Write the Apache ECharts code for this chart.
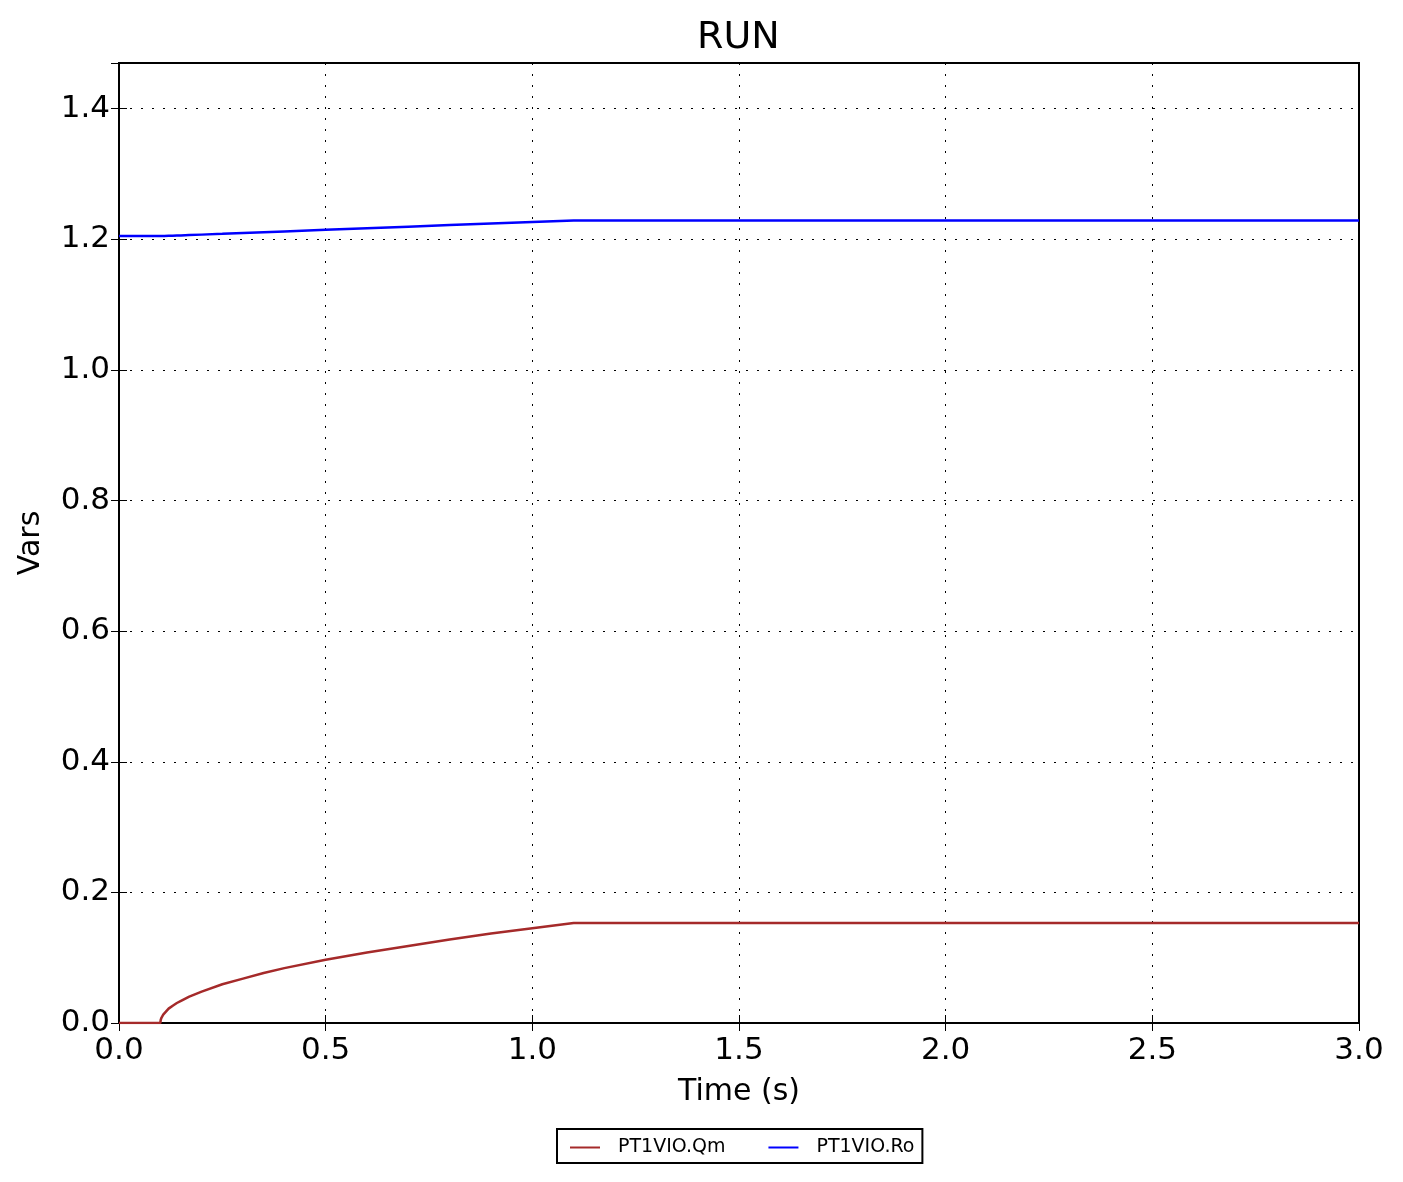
<!DOCTYPE html>
<html>
<head>
<meta charset="utf-8">
<title>RUN</title>
<script src="https://cdn.jsdelivr.net/npm/echarts@6/dist/echarts.min.js"></script>
<style>
  html, body { margin: 0; padding: 0; background: #fff; }
  #chart { width: 1403px; height: 1182px; }
</style>
</head>
<body>
<div id="chart"></div>
<script>
// time points (s)
var timeS = [0, 0.1, 0.101, 0.103, 0.105, 0.107, 0.11, 0.12, 0.13, 0.14, 0.15, 0.17, 0.2, 0.25, 0.3, 0.35, 0.4, 0.5, 0.6, 0.7, 0.8, 0.9, 1.0, 1.1, 1.5, 2.0, 2.5, 3.0];
// PT1VIO.Qm
var qmValues = [0, 0, 0.005, 0.0084, 0.011, 0.0128, 0.015, 0.022, 0.0265, 0.0306, 0.034, 0.0405, 0.048, 0.0593, 0.068, 0.0765, 0.084, 0.097, 0.108, 0.118, 0.128, 0.137, 0.145, 0.153, 0.153, 0.153, 0.153, 0.153];
// PT1VIO.Ro
var roValues = [1.205, 1.205, 1.205, 1.205, 1.205, 1.205, 1.205, 1.2053, 1.2055, 1.2058, 1.206, 1.2065, 1.2072, 1.2084, 1.2097, 1.2109, 1.2121, 1.2145, 1.2169, 1.2194, 1.2218, 1.2242, 1.2266, 1.229, 1.229, 1.229, 1.229, 1.229];
var seriesNames = ["PT1VIO.Qm", "PT1VIO.Ro"];

function pairs(xs, ys) {
  return xs.map(function (x, i) { return [x, ys[i]]; });
}

var font = "DejaVu Sans";
var chart = echarts.init(document.getElementById("chart"));

var xBase = {
  type: "value",
  min: 0,
  max: 3,
  interval: 0.5,
  axisTick: { inside: true, length: 8, lineStyle: { color: "#000", width: 1 } },
  splitLine: { show: false }
};
var yBase = {
  type: "value",
  min: 0,
  max: 1.47,
  interval: 0.2,
  axisTick: { inside: true, length: 8, lineStyle: { color: "#000", width: 1 } },
  splitLine: { show: false }
};

chart.setOption({
  animation: false,
  backgroundColor: "#fff",
  title: {
    text: "RUN",
    left: 697,
    top: 19,
    padding: 0,
    textStyle: { fontFamily: font, fontSize: 38, fontWeight: "normal", color: "#000" }
  },
  grid: {
    left: 119,
    right: 44,
    top: 63,
    bottom: 159,
    show: true,
    borderColor: "#000",
    borderWidth: 2,
    backgroundColor: "#fff"
  },
  legend: {
    data: seriesNames,
    left: 557,
    top: 1129,
    orient: "horizontal",
    icon: "rect",
    itemWidth: 30,
    itemHeight: 2,
    itemGap: 43,
    itemTextGap: 5,
    padding: [9, 8, 6, 13],
    borderColor: "#000",
    borderWidth: 2,
    borderRadius: 0,
    backgroundColor: "#fff",
    textStyle: { fontFamily: font, fontSize: 19, color: "#000", padding: [0, 0, 0, 13] }
  },
  xAxis: [
    Object.assign({}, xBase, {
      position: "bottom",
      name: "Time (s)",
      nameLocation: "middle",
      nameGap: 54,
      nameTextStyle: { fontFamily: font, fontSize: 30, color: "#000" },
      axisLine: { show: true, lineStyle: { color: "#000", width: 2 } },
      axisLabel: {
        margin: 12,
        fontFamily: font,
        fontSize: 31,
        color: "#000",
        formatter: function (v) { return v.toFixed(1); }
      },
      splitLine: { show: true, lineStyle: { color: "#000", width: 1, type: [2, 9] } }
    }),
    Object.assign({}, xBase, {
      position: "top",
      axisLine: { show: false },
      axisLabel: { show: false }
    })
  ],
  yAxis: [
    Object.assign({}, yBase, {
      position: "left",
      name: "Vars",
      nameLocation: "middle",
      nameGap: 73,
      nameTextStyle: { fontFamily: font, fontSize: 30, color: "#000" },
      axisLine: { show: true, lineStyle: { color: "#000", width: 2 } },
      axisLabel: {
        margin: 9,
        fontFamily: font,
        fontSize: 31,
        color: "#000",
        showMaxLabel: false,
        formatter: function (v) { return v.toFixed(1); }
      },
      splitLine: { show: true, lineStyle: { color: "#000", width: 1, type: [2, 9] } }
    }),
    Object.assign({}, yBase, {
      position: "right",
      axisLine: { show: false },
      axisLabel: { show: false }
    })
  ],
  series: [
    {
      name: seriesNames[0],
      type: "line",
      data: pairs(timeS, qmValues),
      showSymbol: false,
      symbol: "none",
      color: "#a52a2a",
      lineStyle: { color: "#a52a2a", width: 2.5 }
    },
    {
      name: seriesNames[1],
      type: "line",
      data: pairs(timeS, roValues),
      showSymbol: false,
      symbol: "none",
      color: "#0000ff",
      lineStyle: { color: "#0000ff", width: 2.5 }
    }
  ]
});
</script>
</body>
</html>
